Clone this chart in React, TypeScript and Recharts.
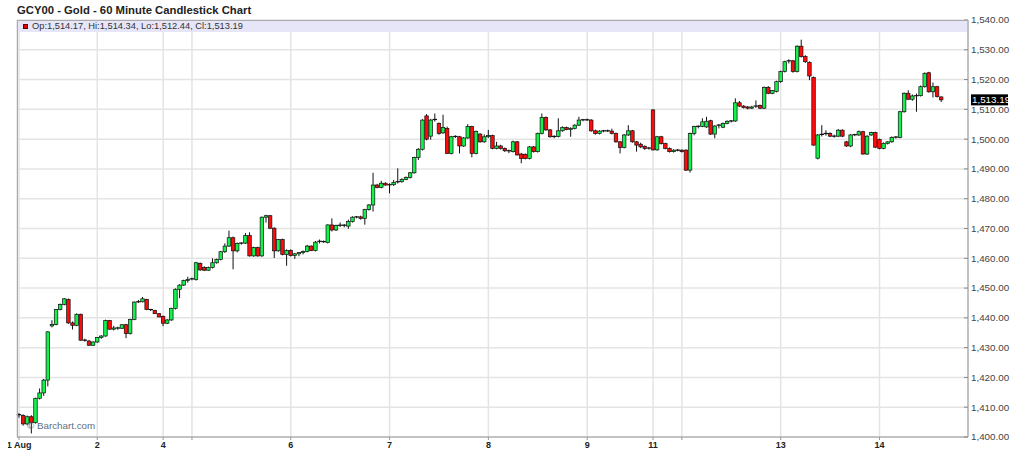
import React from 'react';
import { ComposedChart, Bar, XAxis, YAxis, CartesianGrid, ReferenceArea, ReferenceLine } from 'recharts';

// one candle: open, high, low, close
type Candle = [number, number, number, number];

const aug01: Candle[] = [
  [1407.5, 1408.0, 1406.5, 1407.2], [1407.2, 1407.6, 1403.8, 1404.4], [1404.4, 1407.2, 1404.0, 1406.8],
  [1406.8, 1407.3, 1401.2, 1404.8], [1404.8, 1413.2, 1404.5, 1413.0], [1413.0, 1416.3, 1412.6, 1414.8],
  [1414.8, 1419.5, 1413.8, 1419.1], [1419.1, 1435.5, 1417.0, 1435.3], [1437.3, 1439.2, 1436.8, 1437.8],
  [1437.8, 1443.0, 1437.5, 1442.8], [1442.8, 1444.8, 1442.5, 1444.5], [1444.5, 1446.6, 1444.2, 1446.4],
  [1446.2, 1446.5, 1438.0, 1438.3], [1438.3, 1438.8, 1436.1, 1437.5], [1437.5, 1441.5, 1437.2, 1441.2],
  [1441.2, 1441.4, 1432.3, 1432.5], [1432.5, 1433.0, 1432.0, 1432.3], [1432.2, 1432.6, 1430.6, 1430.8],
  [1430.8, 1432.1, 1430.6, 1431.9],
];

const aug02: Candle[] = [
  [1431.9, 1433.6, 1431.6, 1433.4], [1433.4, 1434.2, 1433.0, 1433.9], [1433.9, 1439.4, 1433.7, 1439.1],
  [1439.1, 1439.3, 1436.0, 1436.2], [1436.2, 1437.3, 1435.8, 1436.6], [1436.6, 1437.0, 1436.0, 1436.5],
  [1436.5, 1437.9, 1436.3, 1437.7], [1437.7, 1438.0, 1433.2, 1434.7], [1434.7, 1439.7, 1434.4, 1439.5],
  [1439.5, 1445.5, 1439.2, 1445.3], [1445.3, 1446.0, 1445.0, 1445.4], [1445.4, 1447.0, 1445.2, 1446.4],
  [1446.2, 1446.4, 1442.6, 1442.8], [1442.8, 1443.0, 1442.3, 1442.5], [1442.5, 1442.7, 1441.3, 1441.4],
  [1441.4, 1441.6, 1440.2, 1440.3],
];

const aug04: Candle[] = [
  [1440.5, 1440.8, 1437.2, 1438.2], [1438.2, 1439.6, 1437.9, 1439.3], [1439.3, 1443.4, 1439.0, 1443.2],
  [1443.2, 1449.9, 1442.8, 1449.6], [1449.6, 1451.3, 1446.6, 1451.0], [1451.0, 1452.8, 1450.7, 1452.5],
  [1452.5, 1453.8, 1451.8, 1452.9],
];

const aug05: Candle[] = [
  [1453.0, 1453.5, 1452.6, 1453.1], [1452.9, 1458.8, 1452.5, 1458.5], [1458.3, 1458.6, 1455.8, 1456.1],
  [1456.9, 1457.3, 1455.7, 1456.0], [1456.0, 1457.2, 1455.8, 1456.9], [1456.9, 1460.0, 1456.6, 1458.5],
  [1458.5, 1459.9, 1458.2, 1459.6], [1459.6, 1462.5, 1459.3, 1462.2], [1462.2, 1465.0, 1461.8, 1464.1],
  [1464.1, 1469.3, 1463.8, 1466.9], [1466.9, 1467.3, 1456.3, 1462.5], [1462.5, 1465.3, 1462.0, 1465.0],
  [1465.0, 1465.4, 1464.6, 1465.1], [1465.1, 1468.5, 1464.8, 1467.6], [1467.6, 1468.7, 1460.6, 1460.8],
  [1460.8, 1463.9, 1460.5, 1463.6], [1463.6, 1463.9, 1460.5, 1460.8], [1460.8, 1474.0, 1460.5, 1473.8],
  [1473.8, 1474.6, 1472.0, 1474.3], [1474.3, 1474.5, 1469.8, 1470.1], [1470.1, 1470.4, 1460.1, 1462.5],
  [1462.5, 1466.5, 1462.2, 1466.3], [1466.3, 1466.6, 1461.0, 1461.3], [1461.3, 1463.0, 1457.5, 1462.6],
];

const aug06: Candle[] = [
  [1462.6, 1463.0, 1460.6, 1460.9], [1460.9, 1461.8, 1459.8, 1461.5], [1461.5, 1462.1, 1460.7, 1461.9],
  [1461.9, 1462.6, 1461.3, 1462.3], [1462.3, 1464.5, 1462.0, 1464.1], [1464.1, 1464.3, 1462.4, 1462.6],
  [1462.6, 1465.8, 1462.3, 1465.4], [1465.4, 1466.3, 1465.0, 1465.7], [1465.6, 1466.0, 1465.2, 1465.3],
  [1465.3, 1471.4, 1465.0, 1471.2], [1471.2, 1473.4, 1469.0, 1469.5], [1469.5, 1471.3, 1469.2, 1471.0],
  [1471.0, 1472.0, 1470.5, 1471.1], [1471.1, 1471.5, 1470.4, 1470.8], [1470.8, 1473.0, 1469.9, 1472.3],
  [1472.3, 1474.1, 1472.0, 1473.8], [1473.8, 1474.2, 1473.4, 1473.9], [1473.9, 1474.3, 1473.0, 1473.4],
  [1473.4, 1476.6, 1471.3, 1476.4], [1476.4, 1478.2, 1476.0, 1477.9], [1477.9, 1488.7, 1475.7, 1484.6],
  [1484.6, 1485.0, 1483.5, 1483.8], [1483.8, 1486.0, 1483.5, 1485.2], [1485.2, 1485.5, 1484.3, 1484.6],
];

const aug07: Candle[] = [
  [1484.6, 1485.2, 1481.8, 1484.7], [1484.7, 1486.3, 1484.3, 1485.4], [1485.4, 1490.2, 1485.1, 1485.7],
  [1485.7, 1486.9, 1485.4, 1486.5], [1486.5, 1487.5, 1486.2, 1487.1], [1487.1, 1489.0, 1486.8, 1488.7],
  [1488.7, 1494.1, 1488.4, 1493.8], [1493.8, 1497.0, 1493.0, 1496.6], [1496.6, 1506.7, 1496.2, 1506.4],
  [1507.8, 1508.4, 1499.6, 1500.0], [1501.0, 1506.8, 1499.8, 1506.4], [1506.4, 1508.6, 1505.9, 1506.6],
  [1505.3, 1505.6, 1501.5, 1501.9], [1502.1, 1508.2, 1501.8, 1503.9], [1503.6, 1504.2, 1495.0, 1495.2],
  [1495.2, 1501.1, 1494.9, 1500.8], [1500.8, 1501.3, 1500.4, 1500.9], [1500.8, 1501.1, 1495.2, 1497.7],
  [1497.7, 1500.7, 1497.4, 1500.4], [1500.4, 1505.0, 1500.1, 1504.2], [1504.2, 1504.5, 1493.9, 1495.2],
  [1495.2, 1502.9, 1494.9, 1502.6], [1501.7, 1502.0, 1498.8, 1499.1], [1499.1, 1501.6, 1498.8, 1500.8],
];

const aug08: Candle[] = [
  [1500.8, 1503.1, 1500.4, 1501.2], [1501.2, 1501.5, 1496.6, 1496.9], [1496.9, 1499.1, 1496.6, 1497.7],
  [1497.7, 1498.1, 1496.5, 1496.9], [1496.9, 1497.2, 1495.7, 1496.1], [1496.1, 1496.5, 1495.3, 1495.8],
  [1495.8, 1499.5, 1495.5, 1499.1], [1499.1, 1499.4, 1494.5, 1494.7], [1495.0, 1495.4, 1491.9, 1493.5],
  [1494.9, 1495.2, 1493.2, 1493.5], [1493.5, 1497.7, 1493.2, 1497.4], [1497.4, 1497.7, 1495.5, 1495.8],
  [1495.8, 1502.2, 1495.5, 1501.9], [1501.9, 1508.6, 1501.6, 1507.3], [1507.3, 1507.6, 1502.8, 1503.1],
  [1503.1, 1503.4, 1500.5, 1500.8], [1500.8, 1501.3, 1500.3, 1500.9], [1500.9, 1507.0, 1500.6, 1502.8],
  [1502.8, 1504.3, 1502.5, 1503.9], [1503.9, 1504.2, 1503.0, 1503.2], [1503.2, 1504.0, 1500.8, 1503.6],
  [1503.6, 1505.0, 1503.3, 1504.7], [1504.7, 1507.5, 1504.4, 1506.4], [1506.4, 1506.8, 1506.0, 1506.5],
];

const aug09: Candle[] = [
  [1506.5, 1506.9, 1506.1, 1506.4], [1506.4, 1506.7, 1502.5, 1502.8], [1502.8, 1503.2, 1501.5, 1501.9],
  [1501.9, 1503.0, 1501.6, 1502.7], [1502.7, 1503.1, 1502.3, 1502.8], [1502.8, 1503.2, 1502.4, 1502.7],
  [1502.7, 1503.5, 1501.6, 1501.9], [1501.9, 1502.2, 1498.8, 1499.1], [1499.1, 1499.4, 1495.2, 1497.2],
  [1497.2, 1501.7, 1496.9, 1501.4], [1501.4, 1504.7, 1501.1, 1502.8], [1502.8, 1503.1, 1498.8, 1499.1],
  [1499.1, 1499.4, 1495.8, 1498.0], [1498.3, 1498.8, 1497.0, 1497.4], [1497.6, 1497.9, 1496.4, 1496.9],
  [1496.9, 1497.4, 1496.5, 1497.0],
];

const aug11: Candle[] = [
  [1509.8, 1510.1, 1496.2, 1496.4], [1496.4, 1501.1, 1496.1, 1500.8], [1500.8, 1501.1, 1498.2, 1498.5],
  [1498.5, 1498.8, 1496.6, 1496.9], [1496.9, 1497.2, 1495.5, 1495.8], [1495.8, 1496.6, 1495.5, 1496.3],
  [1496.3, 1496.7, 1495.9, 1496.3],
];

const aug12: Candle[] = [
  [1496.3, 1496.6, 1495.5, 1495.8], [1496.3, 1496.6, 1489.3, 1489.6], [1489.6, 1502.2, 1488.8, 1501.9],
  [1501.9, 1504.5, 1501.3, 1504.2], [1504.2, 1504.6, 1503.6, 1504.3], [1504.3, 1507.0, 1504.0, 1505.8],
  [1504.1, 1507.5, 1503.8, 1506.0], [1506.2, 1506.5, 1501.4, 1501.7], [1501.7, 1504.7, 1500.3, 1504.4],
  [1504.4, 1505.1, 1503.6, 1504.7], [1504.0, 1505.6, 1503.7, 1505.3], [1505.3, 1506.3, 1505.0, 1506.0],
  [1506.0, 1506.4, 1505.6, 1506.1], [1506.1, 1513.7, 1505.8, 1512.2], [1512.2, 1512.8, 1510.8, 1511.1],
  [1511.1, 1511.4, 1510.3, 1510.6], [1510.8, 1511.1, 1510.0, 1510.4], [1510.4, 1511.2, 1510.1, 1510.8],
  [1510.8, 1513.0, 1510.5, 1511.1], [1511.3, 1511.6, 1510.1, 1510.4], [1510.4, 1517.7, 1510.1, 1517.4],
  [1517.4, 1517.8, 1515.1, 1515.4], [1515.4, 1516.5, 1515.1, 1516.3], [1516.0, 1519.6, 1515.7, 1519.3],
];

const aug13: Candle[] = [
  [1519.3, 1523.0, 1518.9, 1522.7], [1522.7, 1526.3, 1522.4, 1526.0], [1526.0, 1526.8, 1525.4, 1526.3],
  [1526.3, 1526.6, 1522.3, 1522.7], [1522.7, 1531.5, 1522.4, 1531.2], [1531.2, 1533.4, 1527.4, 1527.7],
  [1527.7, 1528.2, 1525.6, 1526.0], [1525.8, 1526.1, 1519.8, 1521.2], [1520.7, 1521.0, 1497.8, 1498.0],
  [1493.6, 1501.7, 1493.2, 1501.4], [1501.4, 1504.7, 1500.9, 1501.6], [1501.6, 1503.0, 1501.2, 1501.9],
  [1501.9, 1502.3, 1500.7, 1501.0], [1501.0, 1501.5, 1500.5, 1500.8], [1501.0, 1503.4, 1500.7, 1503.0],
  [1503.0, 1503.3, 1500.7, 1501.0], [1499.1, 1499.4, 1497.4, 1497.7], [1497.7, 1501.7, 1497.3, 1501.4],
  [1501.4, 1501.8, 1501.0, 1501.5], [1501.4, 1502.9, 1501.1, 1502.5], [1502.5, 1502.8, 1494.8, 1495.0],
  [1495.0, 1501.3, 1494.7, 1501.0], [1501.4, 1502.5, 1501.1, 1502.2], [1502.2, 1502.5, 1497.0, 1497.3],
];

const aug14: Candle[] = [
  [1499.9, 1500.2, 1496.6, 1496.9], [1496.9, 1498.9, 1496.6, 1498.6], [1498.6, 1499.3, 1498.2, 1499.1],
  [1499.1, 1500.9, 1498.8, 1500.6], [1500.6, 1501.0, 1500.2, 1500.7], [1500.6, 1509.5, 1500.3, 1509.2],
  [1509.2, 1515.7, 1508.9, 1515.4], [1515.4, 1516.4, 1513.1, 1513.4], [1513.4, 1515.0, 1512.9, 1514.5],
  [1514.5, 1515.3, 1509.2, 1514.6], [1514.6, 1518.0, 1514.3, 1517.6], [1517.6, 1522.4, 1517.3, 1522.1],
  [1522.3, 1522.6, 1515.6, 1515.9], [1515.9, 1519.0, 1514.0, 1517.6], [1517.6, 1517.9, 1514.0, 1514.3],
  [1514.17, 1514.34, 1512.44, 1513.19],
];

const days = [aug01, aug02, aug04, aug05, aug06, aug07, aug08, aug09, aug11, aug12, aug13, aug14];
const dayLabels = ['1 Aug', '2', '4', '', '6', '7', '8', '9', '11', '', '13', '14'];
const priceTicks = [1400, 1410, 1420, 1430, 1440, 1450, 1460, 1470, 1480, 1490, 1500, 1510, 1520, 1530, 1540];
const lastBar = aug14[aug14.length - 1];
const emptySlots = 6;

const FONT = '"Liberation Sans", Arial, sans-serif';
const UP = '#14f04c';
const DOWN = '#ff0a0a';

const rows: any[] = [];
const dayStarts: number[] = [];
days.forEach(day => {
  dayStarts.push(rows.length);
  day.forEach(([o, h, l, c]) => rows.push({ i: rows.length, o, h, l, c, range: [l, h] }));
});
for (let k = 0; k < emptySlots; k++) rows.push({ i: rows.length, range: null });

const labelOf = (i: number) => dayLabels[dayStarts.indexOf(i)] ?? '';
const fmt = (v: number) => v.toLocaleString('en-US', { minimumFractionDigits: 2, maximumFractionDigits: 2 });

const Candlestick = (props: any) => {
  const { x, y, width, height, payload } = props;
  if (!payload || payload.o == null) return null;
  const { o, h, l, c } = payload;
  const top = Math.min(y, y + height);
  const span = Math.abs(height);
  const yOf = (v: number) => (h > l ? top + ((h - v) / (h - l)) * span : top);
  const cx = x + width / 2;
  const bodyTop = yOf(Math.max(o, c));
  const bodyBot = yOf(Math.min(o, c));
  const bw = 3.5;
  return (
    <g>
      <line x1={cx} x2={cx} y1={top} y2={top + span} stroke="#111" strokeWidth={1} />
      {bodyBot - bodyTop < 1 ? (
        <line x1={cx - bw / 2 - 0.5} x2={cx + bw / 2 + 0.5} y1={bodyTop} y2={bodyTop} stroke="#111" strokeWidth={1.2} />
      ) : (
        <rect x={cx - bw / 2} y={bodyTop} width={bw} height={bodyBot - bodyTop}
          fill={c >= o ? UP : DOWN} stroke="#111" strokeWidth={0.7} />
      )}
    </g>
  );
};

const PriceTick = (props: any) => {
  const { x, y, payload } = props;
  return (
    <g>
      <line x1={x - 7} x2={x - 3} y1={y} y2={y} stroke="#888" />
      <text x={x} y={y} dy={3.4} fontSize={9.8} fill="#444" fontFamily={FONT} textAnchor="start">
        {fmt(payload.value)}
      </text>
    </g>
  );
};

const PriceTag = (props: any) => {
  const vb = props.viewBox;
  const x = vb.x + vb.width + 3;
  return (
    <g>
      <rect x={x} y={vb.y - 5.5} width={37} height={11} fill="#000" />
      <text x={x + 1} y={vb.y} dy={3.4} fontSize={9.8} fill="#fff" fontFamily={FONT}>{fmt(lastBar[3])}</text>
    </g>
  );
};

export default function App() {
  return (
    <div style={{ position: 'absolute', left: 0, top: 0, width: 1024, height: 469, background: '#fff', fontFamily: FONT }}>
      <div style={{ position: 'absolute', left: 8, top: 0 }}>
        <ComposedChart width={1016} height={469} data={rows} barCategoryGap={0}
          margin={{ top: 20, right: 0, bottom: 0, left: 9 }}>
          <CartesianGrid stroke="#e4e4e4" strokeWidth={1.5} />
          <XAxis dataKey="i" type="category" ticks={dayStarts} interval={0} tickFormatter={labelOf}
            height={32} tickSize={3} tickMargin={2} stroke="#999"
            tick={{ fontSize: 9, fontWeight: 'bold', fill: '#222', fontFamily: FONT }} />
          <YAxis orientation="right" domain={[1400, 1540]} ticks={priceTicks} width={56}
            tickSize={0} tickMargin={3} stroke="#999" tick={<PriceTick />} />
          <ReferenceArea y1={1536} y2={1540} fill="#e6e6f8" fillOpacity={1} stroke="none" />
          <ReferenceLine y={lastBar[3]} stroke="none" label={<PriceTag />} />
          <Bar dataKey="range" isAnimationActive={false} shape={<Candlestick />} />
        </ComposedChart>
      </div>
      <div style={{ position: 'absolute', left: 17, top: 20, width: 950, height: 417,
        borderLeft: '1px solid #aaa', borderTop: '1px solid #aaa', pointerEvents: 'none' }} />
      <div style={{ position: 'absolute', left: 17, top: 4, fontSize: 11.3, lineHeight: '12px', fontWeight: 'bold', color: '#222', whiteSpace: 'nowrap' }}>
        GCY00 - Gold - 60 Minute Candlestick Chart
      </div>
      <div style={{ position: 'absolute', left: 23, top: 23.5, width: 3, height: 3, background: '#e00000', border: '0.5px solid #600' }} />
      <div style={{ position: 'absolute', left: 32, top: 20, fontSize: 9.3, lineHeight: '12px', color: '#333', whiteSpace: 'nowrap' }}>
        Op:1,514.17, Hi:1,514.34, Lo:1,512.44, Cl:1,513.19
      </div>
      <div style={{ position: 'absolute', left: 27, top: 420, fontSize: 9.8, lineHeight: '12px', color: '#607080', whiteSpace: 'nowrap' }}>
        © Barchart.com
      </div>
    </div>
  );
}
